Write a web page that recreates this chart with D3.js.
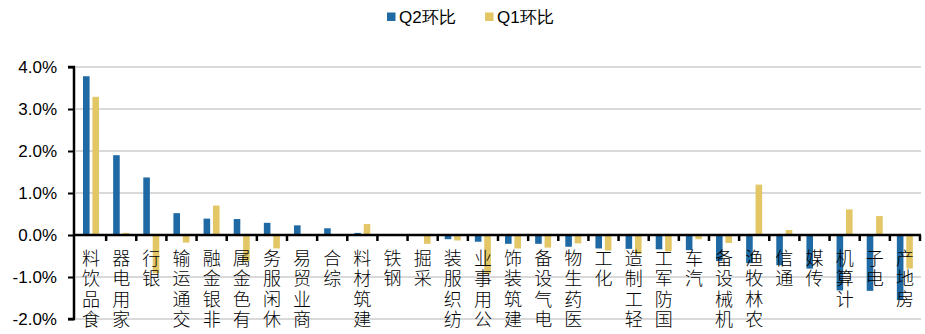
<!DOCTYPE html>
<html>
<head>
<meta charset="utf-8">
<script src="https://cdn.jsdelivr.net/npm/d3@7/dist/d3.min.js"></script>
<style>
  html, body { margin: 0; padding: 0; background: #fff; }
  svg { display: block; }
</style>
</head>
<body>
<script>
// Industry categories (Shenwan level-1)
const categories = ["食品饮料","家用电器","银行","交通运输","非银金融","有色金属","休闲服务","商业贸易","综合","建筑材料","钢铁","采掘","纺织服装","公用事业","建筑装饰","电气设备","医药生物","化工","轻工制造","国防军工","汽车","机械设备","农林牧渔","通信","传媒","计算机","电子","房地产"];
// Quarter-on-quarter change, in percent
const q2Values = [3.78,1.90,1.37,0.52,0.39,0.38,0.29,0.23,0.16,0.05,0.00,-0.01,-0.10,-0.16,-0.21,-0.21,-0.28,-0.32,-0.33,-0.34,-0.36,-0.62,-0.67,-0.72,-0.80,-1.32,-1.33,-1.55];
const q1Values = [3.29,0.05,-0.91,-0.18,0.70,-0.62,-0.32,0.00,-0.02,0.26,-0.02,-0.21,-0.13,-0.93,-0.32,-0.30,-0.20,-0.37,-0.45,-0.39,-0.10,-0.19,1.20,0.12,0.01,0.61,0.45,-0.80];
const seriesNames = ["Q2环比","Q1环比"];
const yTicks = [-2,-1,0,1,2,3,4];

const W = 925, H = 334;
const colors = ["#1f6aa5", "#e3c665"];

const svg = d3.select("body").append("svg").attr("width", W).attr("height", H);

const y = d3.scaleLinear().domain([-2, 4]).range([319, 67]);
const x = d3.scaleBand().domain(categories).range([76, 920]).paddingInner(0).paddingOuter(0);
const xs = d3.scaleBand().domain(seriesNames).range([7, 23]).paddingInner(0.3);

// gridlines
svg.append("g")
  .selectAll("line").data(yTicks.filter(d => d !== 0)).join("line")
  .attr("x1", 76).attr("x2", 921)
  .attr("y1", d => y(d)).attr("y2", d => y(d))
  .attr("stroke", "#d9d9d9").attr("stroke-width", 2);

// bars
const rows = categories.map((c, i) => ({ c, vals: [q2Values[i], q1Values[i]] }));
const grp = svg.append("g").selectAll("g").data(rows).join("g")
  .attr("transform", d => `translate(${x(d.c)},0)`);
grp.selectAll("rect").data(d => d.vals.map((v, k) => ({ v, k }))).join("rect")
  .attr("x", d => xs(seriesNames[d.k]))
  .attr("width", xs.bandwidth())
  .attr("y", d => y(Math.max(0, d.v)))
  .attr("height", d => Math.abs(y(d.v) - y(0)))
  .attr("fill", d => colors[d.k]);

// y axis
const yAxis = d3.axisLeft(y).tickValues(yTicks).tickFormat(d => d.toFixed(1) + "%").tickSize(6).tickPadding(11);
const gy = svg.append("g").attr("transform", "translate(74,0)").call(yAxis);
gy.select(".domain").attr("stroke", "#000").attr("stroke-width", 2.5).attr("d", `M-6,${y(4)}H0V${y(-2)}H-6`);
gy.selectAll(".tick line").attr("stroke", "#000").attr("stroke-width", 2);
gy.selectAll(".tick text").attr("font-family", "Liberation Sans, Arial, sans-serif").attr("font-size", 17).attr("fill", "#000");

// x axis along zero line
const xAxis = d3.axisBottom(x).tickSize(0).tickFormat("");
const gx = svg.append("g").attr("transform", `translate(0,${y(0)})`).call(xAxis);
gx.select(".domain").attr("stroke", "#000").attr("stroke-width", 2.5).attr("d", `M73,0H921`);
// tick marks at band boundaries
const bounds = categories.map(c => x(c) + x.bandwidth());
svg.append("g").selectAll("line").data(bounds).join("line")
  .attr("x1", d => d).attr("x2", d => d)
  .attr("y1", y(0)).attr("y2", y(0) + 6)
  .attr("stroke", "#000").attr("stroke-width", 2.5);

// category labels: the run is turned to read bottom-to-top,
// and each glyph is turned back so the characters stand upright
const fs = 18, ls = 2.5, topY = 244;
const labels = svg.append("g")
  .attr("font-family", "Noto Sans CJK SC, sans-serif")
  .attr("font-size", fs).attr("font-weight", 300).attr("fill", "#000");
categories.forEach(c => {
  const cx = x(c) + x.bandwidth() / 2;
  labels.append("text")
    .attr("transform", `translate(${cx - fs / 2},${topY}) rotate(-90)`)
    .attr("x", 0).attr("y", 0)
    .attr("text-anchor", "end")
    .attr("letter-spacing", ls)
    .attr("rotate", 90)
    .text(c);
});

// legend
const legend = svg.append("g").attr("font-family", "Liberation Sans, Arial, sans-serif").attr("font-size", 17);
const legX = [387, 485];
seriesNames.forEach((s, k) => {
  legend.append("rect").attr("x", legX[k]).attr("y", 12.5).attr("width", 8.5).attr("height", 8.5).attr("fill", colors[k]);
  legend.append("text").attr("x", legX[k] + 12).attr("y", 23).attr("fill", "#000").text(s);
});
</script>
</body>
</html>
